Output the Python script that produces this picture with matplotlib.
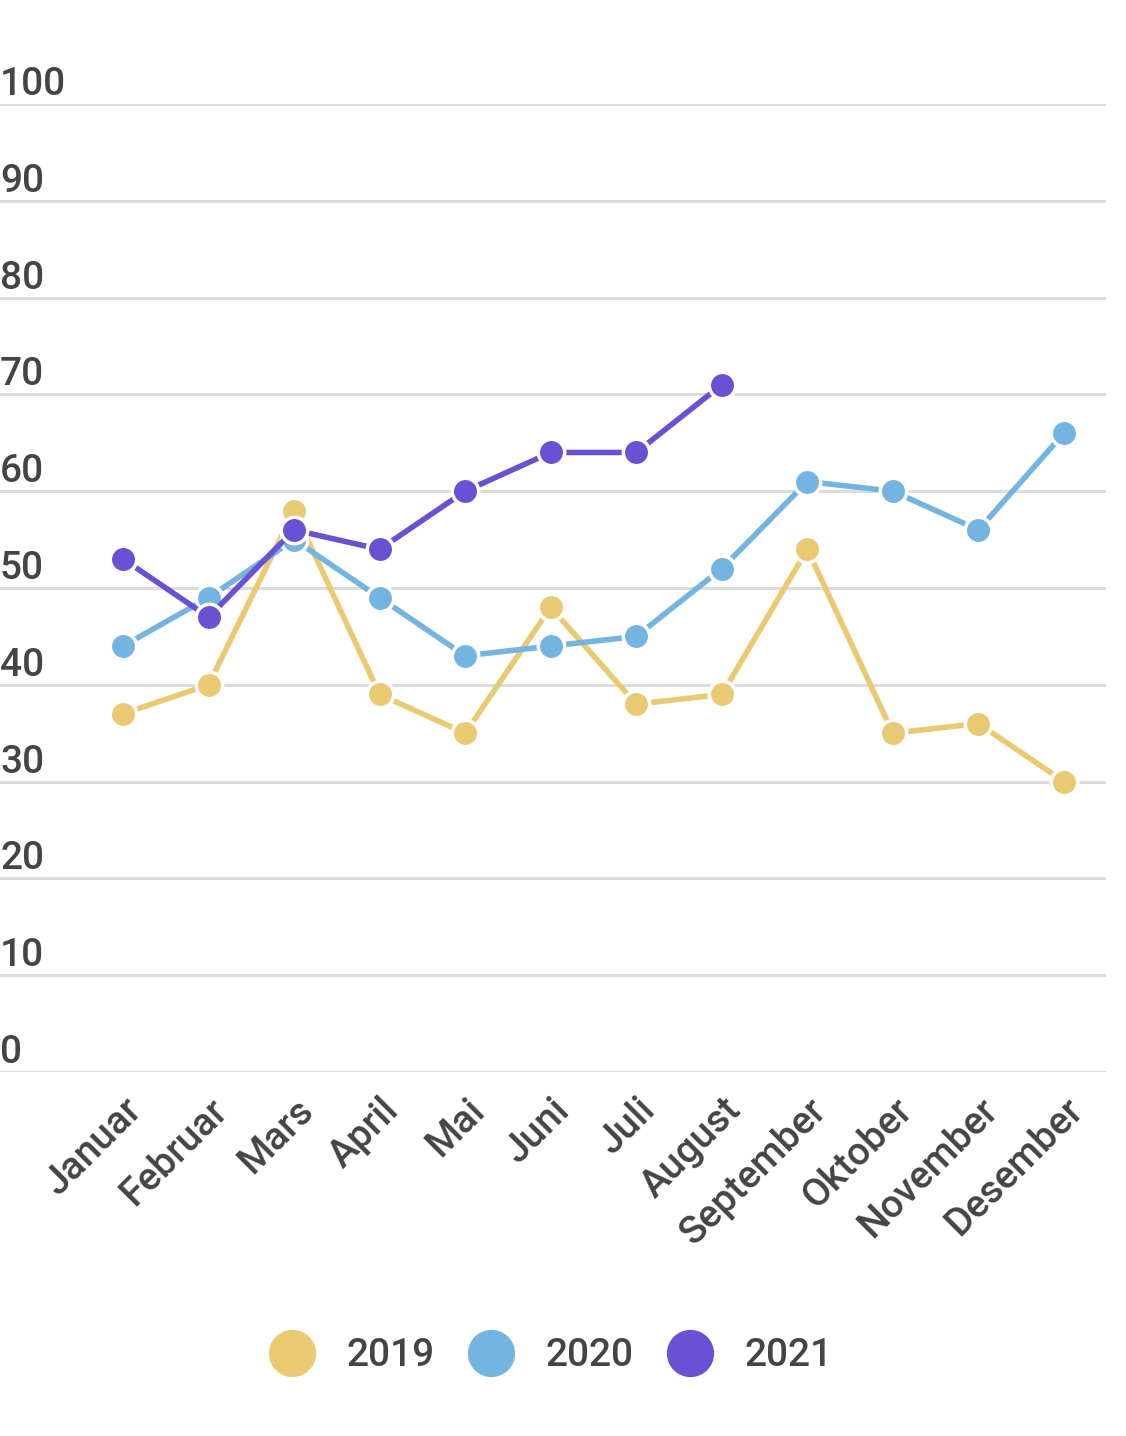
import matplotlib.pyplot as plt
from matplotlib.lines import Line2D
import matplotlib.transforms as mtransforms

plt.rcParams['font.family'] = ['Roboto', 'DejaVu Sans']
plt.rcParams['font.weight'] = 500

# data
months = ['Januar', 'Februar', 'Mars', 'April', 'Mai', 'Juni', 'Juli',
          'August', 'September', 'Oktober', 'November', 'Desember']
values_2019 = [37, 40, 58, 39, 35, 48, 38, 39, 54, 35, 36, 30]
values_2020 = [44, 49, 55, 49, 43, 44, 45, 52, 61, 60, 56, 66]
values_2021 = [53, 47, 56, 54, 60, 64, 64, 71]
years = ['2019', '2020', '2021']
yticks = [0, 10, 20, 30, 40, 50, 60, 70, 80, 90, 100]

colors = ['#E9C972', '#74B4E0', '#6A50D3']
text_color = '#444444'

fig = plt.figure(figsize=(11.26, 14.36), dpi=100)
ax = fig.add_axes([0.0, 1 - 1072 / 1436, 1106 / 1126, (1072 - 104) / 1436])

x = list(range(len(months)))
for vals, col in zip([values_2019, values_2020, values_2021], colors):
    ax.plot(x[:len(vals)], vals, color=col, lw=4, marker='o', ms=19,
            mfc=col, mec='white', mew=2.5, solid_capstyle='round', zorder=3)

ax.set_ylim(0, 100)
ax.set_xlim(-123 / 85.55, 11 + 42 / 85.55)

# gridlines
for v in yticks:
    ax.axhline(v, color='#dcdcdc', lw=2.2, zorder=1)

# y labels sitting on top of gridlines
trans = mtransforms.blended_transform_factory(ax.transAxes, ax.transData)
trans = mtransforms.offset_copy(trans, fig=fig, x=0, y=9, units='dots')
for v in yticks:
    ax.text(0, v, str(v), transform=trans, ha='left', va='baseline',
            fontsize=28, color=text_color)

ax.set_yticks([])
ax.set_xticks(x)
ax.set_xticklabels(months, rotation=45, ha='right', va='top',
                   rotation_mode='anchor', fontsize=28, color=text_color)
ax.tick_params(axis='x', length=0, pad=14)
for s in ax.spines.values():
    s.set_visible(False)

handles = [Line2D([], [], ls='none', marker='o', ms=33, mfc=c, mec=c)
           for c in colors]
fig.legend(handles, years, loc='center',
           bbox_to_anchor=(551 / 1126, 1 - 1356 / 1436),
           bbox_transform=fig.transFigure, ncol=3, frameon=False,
           fontsize=28, labelcolor=text_color, handlelength=1.2,
           handletextpad=0.8, columnspacing=0.85)

fig.savefig('out.png', dpi=100, facecolor='white')
